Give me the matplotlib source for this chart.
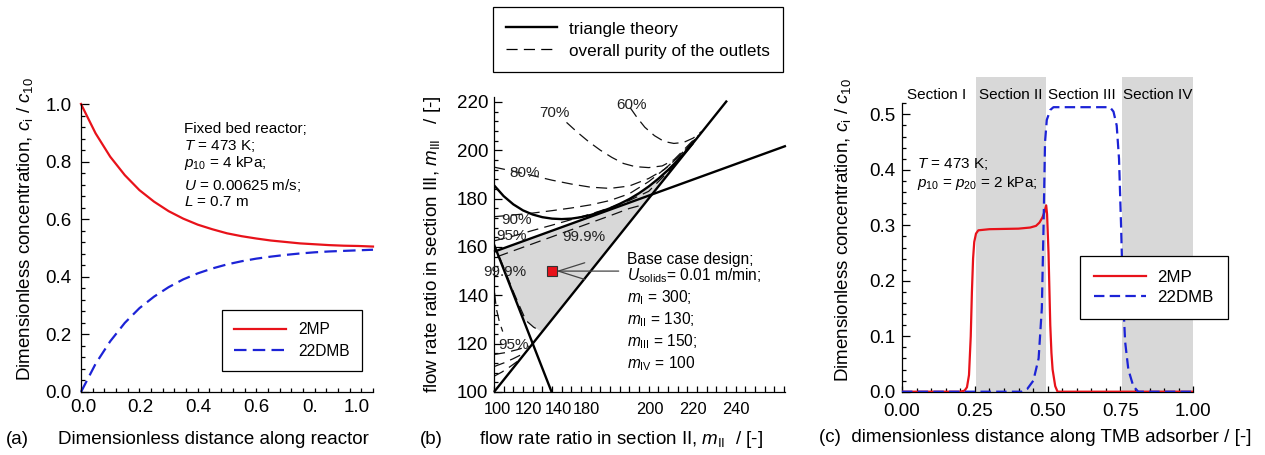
import numpy as np
import matplotlib
matplotlib.use("Agg")
import matplotlib.pyplot as plt
from matplotlib.lines import Line2D
from matplotlib.ticker import MultipleLocator

# ---------------- data ----------------
# (a) fixed bed reactor
a_x = [0.00, 0.05, 0.10, 0.15, 0.20, 0.25, 0.30, 0.35, 0.40, 0.45, 0.50,
       0.55, 0.60, 0.65, 0.70, 0.75, 0.80, 0.85, 0.90, 0.95, 1.00]
a_2mp = [1.000, 0.898, 0.817, 0.753, 0.701, 0.661, 0.628, 0.602, 0.581, 0.565, 0.551,
         0.541, 0.533, 0.526, 0.521, 0.516, 0.513, 0.510, 0.508, 0.507, 0.505]
a_22dmb = [0.000, 0.098, 0.176, 0.240, 0.291, 0.331, 0.364, 0.391, 0.412, 0.429, 0.443,
           0.454, 0.463, 0.470, 0.476, 0.481, 0.485, 0.488, 0.490, 0.492, 0.494]
a_xtick_labels = ["0.0", "0.2", "0.4", "0.6", "0.", "1.0"]
a_ytick_labels = ["0.0", "0.2", "0.4", "0.6", "0.8", "1.0"]

# (b) triangle theory (m_II, m_III)
diag_x = [100, 220.5]
diag_y = [100, 220.5]
wr_x = [100, 251]
wr_y = [158, 201.8]
left_x = [100, 129.8]
left_y = [161, 100]
curve_x = [100, 105, 110, 115, 120, 125, 130, 135, 140, 145, 150, 155, 160,
           165, 170, 175, 180, 185, 190, 195, 200, 203]
curve_y = [185.5, 181.0, 177.6, 175.1, 173.4, 172.3, 171.7, 171.5, 171.7, 172.3,
           173.2, 174.5, 176.0, 177.8, 179.8, 182.2, 185.0, 188.2, 191.8, 195.8,
           200.2, 203.0]
region_x = [101.3, 110, 120, 130, 140, 150, 155, 160, 165, 170, 175, 180, 185,
            190, 195, 200, 203, 124.5, 120.5, 116.5, 115.6]
region_y = [158.4, 160.9, 163.8, 166.7, 169.6, 172.5, 174.5, 176.0, 177.8, 179.8,
            182.2, 185.0, 188.2, 191.8, 195.8, 200.2, 203.0, 125.0, 126.8, 129.6,
            128.9]
# overall purity contours
p60_x = [170.4, 174, 178, 183, 188, 193, 198, 203, 207.5]
p60_y = [217.6, 213.5, 209.5, 206.0, 203.6, 202.8, 203.2, 205.0, 207.8]
p70_x = [137.5, 143, 149, 155, 161, 167, 173, 180, 187, 193, 198, 202, 205.5]
p70_y = [211.5, 207.5, 203.5, 200.0, 197.0, 194.5, 193.2, 192.8, 193.5, 196.0,
         200.0, 203.3, 206.0]
p80_x = [100, 110, 120, 130, 140, 150, 160, 170, 180, 188, 195, 200, 204]
p80_y = [193.0, 191.3, 189.5, 187.6, 186.0, 184.7, 184.2, 185.2, 188.3, 192.0,
         197.0, 201.2, 204.6]
p90_x = [100, 110, 120, 130, 140, 150, 160, 170, 180, 190, 197, 202]
p90_y = [172.5, 173.2, 174.0, 175.0, 176.1, 177.4, 179.2, 182.0, 187.0, 193.3,
         198.4, 202.6]
p95_x = [100, 110, 120, 130, 140, 150, 160, 170, 180, 190, 198]
p95_y = [162.5, 164.5, 166.8, 169.0, 171.3, 173.6, 176.2, 179.2, 183.0, 191.0,
         198.6]
p999_x = [101.8, 110, 120, 130, 140, 150, 160, 170, 176]
p999_y = [156.0, 158.4, 161.3, 164.2, 167.1, 170.0, 172.9, 175.9, 177.2]
p999_left_x = [103.0, 106.5, 110.0, 113.5, 116.5, 120.5, 124.5]
p999_left_y = [155.5, 148.5, 141.5, 135.0, 129.6, 126.8, 125.0]
p999_lobe_x = [100.3, 101.2, 102.8, 104.5]
p999_lobe_y = [141.0, 134.5, 129.0, 125.0]
p95_low1_x = [100, 106, 112, 118]
p95_low1_y = [115.5, 116.3, 117.5, 119.0]
p95_low2_x = [100, 105, 110, 115]
p95_low2_y = [110.5, 112.0, 113.8, 115.8]
p95_low3_x = [100, 104, 108, 112]
p95_low3_y = [106.5, 108.2, 110.3, 112.6]
pct_labels = ["60%", "70%", "80%", "90%", "95%", "99.9%", "99.9%", "95%"]
pct_x = [171.2, 131.0, 116.0, 111.7, 109.1, 146.2, 105.7, 110.0]
pct_y = [218.8, 215.4, 190.6, 171.2, 164.6, 164.3, 149.6, 119.5]
base_mII = [130]
base_mIII = [150]
b_xtick_labels = ["100", "120", "140", "180", "200", "220", "240"]
b_xtick_pos = [101.6, 117.6, 133.1, 147.6, 180.7, 203.0, 225.2]
b_yticks = [100, 120, 140, 160, 180, 200, 220]

# (c) TMB adsorber profiles
c_x_2mp = [0.00, 0.200, 0.215, 0.223, 0.230, 0.236, 0.240, 0.244, 0.248, 0.254,
           0.262, 0.300, 0.400, 0.440, 0.460, 0.472, 0.482, 0.489, 0.495, 0.498,
           0.503, 0.509, 0.513, 0.517, 0.526, 0.534, 1.00]
c_2mp = [0.0, 0.0, 0.002, 0.008, 0.03, 0.10, 0.18, 0.24, 0.270, 0.285, 0.291,
         0.293, 0.294, 0.296, 0.299, 0.305, 0.314, 0.324, 0.336, 0.320, 0.250,
         0.120, 0.070, 0.040, 0.010, 0.0, 0.0]
c_x_22dmb = [0.00, 0.410, 0.430, 0.451, 0.469, 0.480, 0.486, 0.491, 0.497, 0.509,
             0.520, 0.714, 0.726, 0.737, 0.745, 0.752, 0.758, 0.766, 0.777,
             0.794, 0.811, 1.00]
c_22dmb = [0.0, 0.0, 0.005, 0.02, 0.06, 0.15, 0.30, 0.45, 0.49, 0.508, 0.513,
           0.513, 0.505, 0.480, 0.420, 0.300, 0.180, 0.090, 0.040, 0.010, 0.0, 0.0]
sections = ["Section I", "Section II", "Section III", "Section IV"]
section_x = [0.119, 0.374, 0.616, 0.879]
shade_start = [0.2537, 0.7566]
shade_end = [0.4949, 1.0]
c_xticks = [0.0, 0.25, 0.5, 0.75, 1.0]
c_xtick_labels = ["0.00", "0.25", "0.50", "0.75", "1.00"]
c_yticks = [0.0, 0.1, 0.2, 0.3, 0.4, 0.5]

# ---------------- style ----------------
plt.rcParams['font.family'] = ['Liberation Sans', 'DejaVu Sans']
plt.rcParams['mathtext.fontset'] = 'custom'
plt.rcParams['mathtext.rm'] = 'Liberation Sans'
plt.rcParams['mathtext.it'] = 'Liberation Sans:italic'
plt.rcParams['mathtext.bf'] = 'Liberation Sans:bold'
plt.rcParams['lines.scale_dashes'] = False
plt.rcParams['axes.linewidth'] = 0.9

W, H = 1265, 455
fig = plt.figure(figsize=(W / 100, H / 100), dpi=100)

RED = '#e8121a'
BLUE = '#1c23d6'
GRAY = '#d8d8d8'
TICK = 13.5
LAB = 13.5


def box(l, t, r, b):
    return [l / W, 1 - b / H, (r - l) / W, (b - t) / H]


def ftext(x, y, s, **kw):
    return fig.text(x / W, 1 - y / H, s, **kw)


def style_axes(ax):
    ax.spines['top'].set_visible(False)
    ax.spines['right'].set_visible(False)
    ax.tick_params(which='both', direction='in', top=False, right=False,
                   labelsize=TICK, width=0.9)
    ax.tick_params(which='major', length=6)
    ax.tick_params(which='minor', length=3)


# ---------------- panel (a) ----------------
axa = fig.add_axes(box(81, 104, 373, 392))
style_axes(axa)
axa.plot(a_x, a_2mp, color=RED, lw=1.6, label='2MP', clip_on=False)
axa.plot(a_x, a_22dmb, color=BLUE, lw=1.6, dashes=(9, 4.5), label='22DMB',
         clip_on=False)
axa.set_xlim(0, 1.0)
axa.set_ylim(0, 1.0)
axa.set_xticks([0.007, 0.203, 0.401, 0.601, 0.784, 0.945], a_xtick_labels)
axa.xaxis.set_minor_locator(MultipleLocator(0.04))
axa.tick_params(axis='x', which='major', length=0, pad=5)
axa.set_yticks([0, 0.2, 0.4, 0.6, 0.8, 1.0], a_ytick_labels)
axa.yaxis.set_minor_locator(MultipleLocator(0.04))
axa.tick_params(axis='y', which='major', pad=7)
leg = axa.legend(loc='upper left', bbox_to_anchor=(222 / W, 1 - 310 / H),
                 bbox_transform=fig.transFigure, fontsize=11.2, frameon=True,
                 fancybox=False, edgecolor='black', framealpha=1,
                 handlelength=3.3, handletextpad=0.78, borderpad=0.8,
                 labelspacing=0.4, borderaxespad=0)
leg.get_frame().set_linewidth(0.9)
for i, s in enumerate(["Fixed bed reactor;", r"$T$ = 473 K;", r"$p_{10}$ = 4 kPa;",
                       r"$U$ = 0.00625 m/s;", r"$L$ = 0.7 m"]):
    ftext(184, [129.3, 145.5, 163.5, 186, 202.5][i], s, fontsize=11, va='center',
          ha='left')
ftext(25, 229, r"Dimensionless concentration, $c_\mathrm{i}$ / $c_{10}$",
      rotation=90, fontsize=LAB, ha='center', va='center')
ftext(17.5, 440, "(a)", fontsize=LAB, ha='center', va='center')
ftext(213.5, 440, "Dimensionless distance along reactor", fontsize=LAB,
      ha='center', va='center')

# ---------------- panel (b) ----------------
axb = fig.add_axes(box(494, 97, 785, 392))
style_axes(axb)
axb.fill(region_x, region_y, color=GRAY, lw=0, zorder=1)
dash_kw = dict(color='#111111', lw=0.9, dashes=(8, 4.5), zorder=2)
for xs, ys in [(p60_x, p60_y), (p70_x, p70_y), (p80_x, p80_y), (p90_x, p90_y),
               (p95_x, p95_y), (p999_x, p999_y), (p999_left_x, p999_left_y),
               (p999_lobe_x, p999_lobe_y), (p95_low1_x, p95_low1_y),
               (p95_low2_x, p95_low2_y), (p95_low3_x, p95_low3_y)]:
    axb.plot(xs, ys, **dash_kw)
solid_kw = dict(color='black', lw=1.7, zorder=3, solid_capstyle='butt')
axb.plot(diag_x, diag_y, clip_on=False, **solid_kw)
axb.plot(wr_x, wr_y, clip_on=False, **solid_kw)
axb.plot(left_x, left_y, **solid_kw)
axb.plot(curve_x, curve_y, **solid_kw)
for s, x, y in zip(pct_labels, pct_x, pct_y):
    axb.text(x, y, s, fontsize=11, color='#222222', ha='center', va='center',
             zorder=4, clip_on=False)
axb.plot(base_mII, base_mIII, marker='s', ms=6.5, mfc=RED, mec='#333333',
         mew=0.8, ls='none', zorder=5)
axb.annotate("", xy=(base_mII[0] + 2.2, base_mIII[0]), xytext=(164.5, base_mIII[0]),
             arrowprops=dict(arrowstyle='->,head_length=1.9,head_width=0.6',
                             color='#444444', lw=0.9, shrinkA=0, shrinkB=0),
             zorder=5)
axb.set_xlim(100, 250.5)
axb.set_ylim(100, 222)
axb.set_xticks(b_xtick_pos, b_xtick_labels)
axb.xaxis.set_minor_locator(MultipleLocator(5))
axb.tick_params(axis='x', which='major', length=0, pad=7, labelsize=11.8)
axb.tick_params(axis='x', which='minor', length=4)
axb.set_yticks(b_yticks)
axb.yaxis.set_minor_locator(MultipleLocator(4))
axb.tick_params(axis='y', which='major', pad=4)
btxt = ["Base case design;", r"$U_\mathrm{solids}$= 0.01 m/min;",
        r"$m_\mathrm{I}$ = 300;", r"$m_\mathrm{II}$ = 130;",
        r"$m_\mathrm{III}$ = 150;", r"$m_\mathrm{IV}$ = 100"]
for s, y in zip(btxt, [259.3, 276, 298, 320, 342, 364]):
    ftext(627, y, s, fontsize=11.2, ha='left', va='center')
ftext(432, 244, r"flow rate ratio in section III, $m_\mathrm{III}$   / [-]",
      rotation=90, fontsize=LAB, ha='center', va='center')
ftext(431, 439, "(b)", fontsize=LAB, ha='center', va='center')
ftext(621, 439, r"flow rate ratio in section II, $m_\mathrm{II}$  / [-]",
      fontsize=LAB, ha='center', va='center')
legb = fig.legend(handles=[Line2D([], [], color='black', lw=1.7),
                           Line2D([], [], color='black', lw=0.9, dashes=(8, 4.5))],
                  labels=["triangle theory", "overall purity of the outlets"],
                  loc='upper left', bbox_to_anchor=(492.7 / W, 1 - 7.3 / H),
                  bbox_transform=fig.transFigure, fontsize=12.3, frameon=True,
                  fancybox=False, edgecolor='black', framealpha=1,
                  handlelength=3.04, handletextpad=0.7, borderpad=0.75,
                  handleheight=1.1, labelspacing=0.3, borderaxespad=0)
legb.get_frame().set_linewidth(0.9)

# ---------------- panel (c) ----------------
axc = fig.add_axes(box(902, 103.3, 1193.3, 391.7))
style_axes(axc)
for s0, s1 in zip(shade_start, shade_end):
    axc.axvspan(s0, s1, ymin=0, ymax=1.09, color=GRAY, lw=0, clip_on=False,
                zorder=0)
axc.plot(c_x_2mp, c_2mp, color=RED, lw=1.6, label='2MP', zorder=3)
axc.plot(c_x_22dmb, c_22dmb, color=BLUE, lw=1.6, dashes=(7.5, 3.8),
         label='22DMB', zorder=3)
for s, x in zip(sections, section_x):
    axc.text(x, 0.5346, s, fontsize=11, ha='center', va='center', clip_on=False)
axc.set_xlim(0, 1.0)
axc.set_ylim(0, 0.52)
axc.set_xticks(c_xticks, c_xtick_labels)
axc.xaxis.set_minor_locator(MultipleLocator(0.05))
axc.set_yticks(c_yticks)
axc.yaxis.set_minor_locator(MultipleLocator(0.02))
axc.tick_params(axis='x', which='major', length=4, pad=8)
axc.tick_params(axis='y', which='major', pad=5)
legc = axc.legend(loc='upper left', bbox_to_anchor=(1080 / W, 1 - 256 / H),
                  bbox_transform=fig.transFigure, fontsize=12.2, frameon=True,
                  fancybox=False, edgecolor='black', framealpha=1,
                  handlelength=3.04, handletextpad=0.69, borderpad=0.85,
                  labelspacing=0.25, borderaxespad=0)
legc.get_frame().set_linewidth(0.9)
ftext(916.7, 164, r"$T$ = 473 K;", fontsize=11, ha='left', va='center')
ftext(916.7, 182.7, r"$p_{10}$ = $p_{20}$ = 2 kPa;", fontsize=11, ha='left',
      va='center')
ftext(843, 230, r"Dimensionless concentration, $c_\mathrm{i}$ / $c_{10}$",
      rotation=90, fontsize=LAB, ha='center', va='center')
ftext(1035.5, 438, "(c)  dimensionless distance along TMB adsorber / [-]",
      fontsize=LAB, ha='center', va='center')

fig.savefig("out.png", dpi=100)
